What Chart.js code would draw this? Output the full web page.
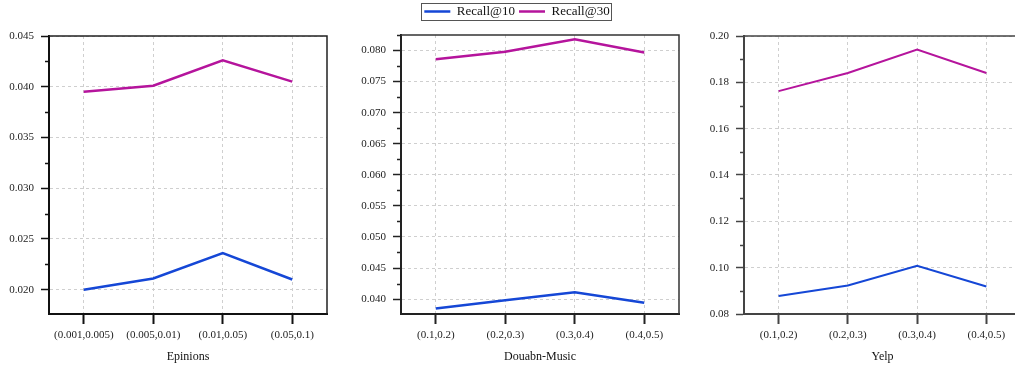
<!DOCTYPE html>
<html>
<head>
<meta charset="utf-8">
<script src="https://cdn.jsdelivr.net/npm/chart.js@4.4.0/dist/chart.umd.min.js"></script>
<style>
  html, body { margin: 0; padding: 0; background: #fff; overflow: hidden; width: 1015px; height: 369px; }
  canvas { position: absolute; top: 0; }
</style>
</head>
<body>
<canvas id="c1" width="340" height="369" style="left:0px"></canvas>
<canvas id="c2" width="340" height="369" style="left:355px"></canvas>
<canvas id="c3" width="345" height="369" style="left:680px"></canvas>
<script>
// categories
const epinionsCats = ['(0.001,0.005)', '(0.005,0.01)', '(0.01,0.05)', '(0.05,0.1)'];
const rangeCats = ['(0.1,0.2)', '(0.2,0.3)', '(0.3,0.4)', '(0.4,0.5)'];

// series values
const epinionsR10 = [0.0200, 0.0211, 0.0236, 0.0210];
const epinionsR30 = [0.0395, 0.0401, 0.0426, 0.0405];
const doubanR10 = [0.0385, 0.0398, 0.0411, 0.0394];
const doubanR30 = [0.0786, 0.0798, 0.0818, 0.0797];
const yelpR10 = [0.0878, 0.0923, 0.1008, 0.0919];
const yelpR30 = [0.1762, 0.1840, 0.1942, 0.1840];

// y tick labels
const epinionsTicks = [0.020, 0.025, 0.030, 0.035, 0.040, 0.045];
const doubanTicks = [0.040, 0.045, 0.050, 0.055, 0.060, 0.065, 0.070, 0.075, 0.080];
const yelpTicks = [0.08, 0.10, 0.12, 0.14, 0.16, 0.18, 0.20];

const BLUE = '#1547d6';
const MAGENTA = '#b5149c';
const SERIF = "'Liberation Serif', 'Times New Roman', serif";

// top/right frame + short minor ticks on the y axis
const framePlugin = {
  id: 'frame',
  afterDraw(chart, args, opts) {
    const {ctx, chartArea: a} = chart;
    const y = chart.scales.y;
    ctx.save();
    ctx.strokeStyle = opts.color;
    ctx.lineWidth = 1.5;
    ctx.beginPath();
    ctx.moveTo(a.left, a.top);
    ctx.lineTo(a.right, a.top);
    ctx.lineTo(a.right, a.bottom);
    ctx.stroke();
    // minor ticks halfway between majors
    const step = opts.minorStep;
    ctx.strokeStyle = opts.axisColor;
    const first = opts.majors[0];
    for (let v = first - step * Math.floor((first - y.min) / step); v <= y.max + 1e-9; v += step) {
      if (opts.majors.some(m => Math.abs(m - v) < 1e-9)) continue;
      const p = Math.round(y.getPixelForValue(v)) + 0.5;
      ctx.beginPath();
      ctx.moveTo(a.left - 4, p);
      ctx.lineTo(a.left, p);
      ctx.stroke();
    }
    ctx.restore();
  }
};

// border around the legend
const legendBoxPlugin = {
  id: 'legendBox',
  afterDraw(chart) {
    const lg = chart.legend;
    if (!lg || !lg.options.display || !lg.legendHitBoxes.length) return;
    const hb = lg.legendHitBoxes;
    const l = Math.min(...hb.map(b => b.left)) - 3;
    const r = Math.max(...hb.map(b => b.left + b.width)) + 2;
    const t = hb[0].top - 2;
    const b = hb[0].top + hb[0].height + 2;
    const ctx = chart.ctx;
    ctx.save();
    ctx.strokeStyle = '#555';
    ctx.lineWidth = 1;
    ctx.strokeRect(Math.round(l) + 0.5, Math.round(t) + 0.5, Math.round(r - l), Math.round(b - t));
    ctx.restore();
  }
};

function makeChart(id, cfg) {
  const scales = {
    x: {
      offset: true,
      grid: { color: '#cfcfcf', lineWidth: 1, tickLength: 10, tickColor: cfg.axisColor, tickWidth: 2 },
      border: { color: cfg.axisColor, width: 2, dash: [3, 3] },
      ticks: { color: '#222', padding: 5, maxRotation: 0, autoSkip: false,
        font: { family: SERIF, size: 11 } },
      title: { display: true, text: cfg.title, color: '#111',
        font: { family: SERIF, size: 12 }, padding: { top: 0, bottom: 5 } },
      afterFit(s) { s.height = 55; }
    },
    y: {
      min: cfg.yMin, max: cfg.yMax,
      afterBuildTicks(s) { s.ticks = cfg.yTicks.map(v => ({ value: v })); },
      grid: { color: '#cfcfcf', lineWidth: 1, tickLength: 8, tickColor: cfg.axisColor, tickWidth: 1.5 },
      border: { color: cfg.axisColor, width: 2, dash: [3, 3] },
      ticks: { color: '#222', padding: 7, font: { family: SERIF, size: 11 },
        callback: v => Number(v).toFixed(cfg.decimals) },
      afterFit(s) { s.width = cfg.yWidth; }
    }
  };
  if (cfg.gapTop) {
    // empty spacer between the legend and the plot
    scales.gap = {
      type: 'category', position: 'top', display: true,
      grid: { display: false }, border: { display: false }, ticks: { display: false },
      afterFit(s) { s.height = cfg.gapTop; }
    };
  }
  return new Chart(document.getElementById(id), {
    type: 'line',
    data: {
      labels: cfg.cats,
      datasets: [
        { label: 'Recall@10', data: cfg.r10, borderColor: BLUE, backgroundColor: BLUE,
          borderWidth: cfg.lineWidth, pointRadius: 0, tension: 0 },
        { label: 'Recall@30', data: cfg.r30, borderColor: MAGENTA, backgroundColor: MAGENTA,
          borderWidth: cfg.lineWidth, pointRadius: 0, tension: 0 }
      ]
    },
    options: {
      responsive: false,
      animation: false,
      layout: { padding: { left: 0, right: cfg.padRight, top: cfg.padTop, bottom: 0 } },
      plugins: {
        legend: {
          display: !!cfg.legend,
          position: 'top',
          labels: { boxWidth: 26, boxHeight: 0, padding: 4, color: '#111',
            font: { family: SERIF, size: 13 } }
        },
        tooltip: { enabled: false },
        frame: { color: cfg.frameColor, axisColor: cfg.axisColor, minorStep: cfg.minorStep, majors: cfg.yTicks }
      },
      scales
    },
    plugins: [framePlugin, legendBoxPlugin]
  });
}

makeChart('c1', {
  cats: epinionsCats, r10: epinionsR10, r30: epinionsR30, title: 'Epinions',
  yMin: 0.0176, yMax: 0.045, yTicks: epinionsTicks, decimals: 3, minorStep: 0.0025,
  yWidth: 49, padRight: 13, padTop: 36, lineWidth: 2.5,
  axisColor: '#111', frameColor: '#222'
});

makeChart('c2', {
  cats: rangeCats, r10: doubanR10, r30: doubanR30, title: 'Douabn-Music',
  yMin: 0.0376, yMax: 0.0825, yTicks: doubanTicks, decimals: 3, minorStep: 0.0025,
  yWidth: 46, padRight: 16, padTop: 1, gapTop: 7, lineWidth: 2.5, legend: true,
  axisColor: '#222', frameColor: '#333'
});

makeChart('c3', {
  cats: rangeCats, r10: yelpR10, r30: yelpR30, title: 'Yelp',
  yMin: 0.08, yMax: 0.20, yTicks: yelpTicks, decimals: 2, minorStep: 0.01,
  yWidth: 64, padRight: 4, padTop: 36, lineWidth: 2,
  axisColor: '#444', frameColor: '#444'
});
</script>
</body>
</html>
